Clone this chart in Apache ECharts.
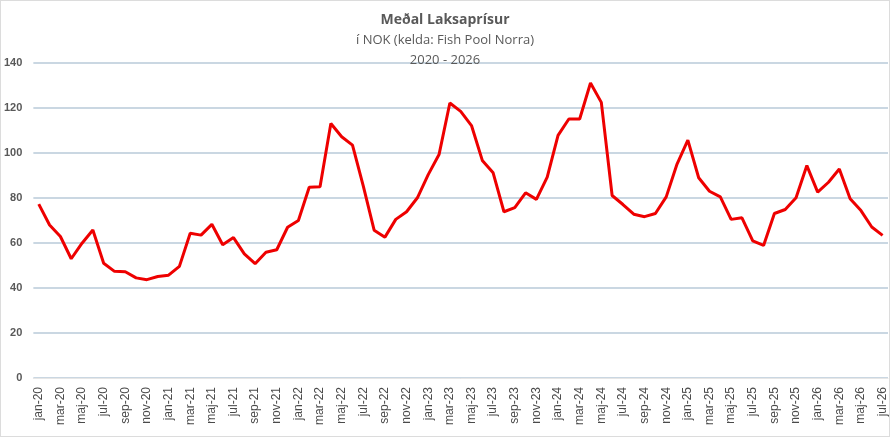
<!DOCTYPE html>
<html>
<head>
<meta charset="utf-8">
<script src="https://cdn.jsdelivr.net/npm/echarts@6/dist/echarts.min.js"></script>
<style>
  html, body { margin: 0; padding: 0; background: #fff; }
  #main { width: 890px; height: 437px; box-sizing: border-box; border: 1px solid #dcdcdc; }
</style>
</head>
<body>
<div id="main"></div>
<script>
const years = ['20', '21', '22', '23', '24', '25', '26'];
const monthNames = ['jan', 'feb', 'mar', 'apr', 'maj', 'jun', 'jul', 'aug', 'sep', 'okt', 'nov', 'des'];
const months = [];
years.forEach(y => monthNames.forEach(m => months.push(m + '-' + y)));
months.length = 79; // jan-20 .. jul-26

const prices = [
  77.3, 68.0, 62.9, 53.0, 59.9, 65.8, 51.0, 47.4, 47.2, 44.5, 43.7, 45.1,
  45.7, 49.6, 64.3, 63.5, 68.3, 59.2, 62.4, 55.2, 50.8, 55.9, 57.0, 67.0,
  70.0, 84.8, 85.0, 113.1, 107.2, 103.5, 85.3, 65.7, 62.6, 70.5, 73.9, 80.1,
  90.4, 99.3, 122.2, 118.5, 112.2, 96.7, 91.2, 73.9, 75.7, 82.3, 79.4, 89.3,
  107.8, 115.1, 115.1, 131.1, 122.5, 81.1, 77.1, 72.8, 71.7, 73.1, 80.5, 95.1,
  105.7, 89.0, 83.0, 80.5, 70.5, 71.2, 60.9, 58.9, 73.1, 74.9, 80.1, 94.4,
  82.6, 87.0, 92.9, 79.7, 74.4, 67.1, 63.4
];

const yTicks = { min: 0, max: 140, interval: 20 };

const chart = echarts.init(document.getElementById('main'));
chart.setOption({
  animation: false,
  title: [
    { text: 'Meðal Laksaprísur', left: 'center', top: 7,
      textStyle: { fontFamily: 'Open Sans', fontSize: 14, fontWeight: 'bold', color: '#595959' } },
    { text: 'í NOK (kelda: Fish Pool Norra)', left: 'center', top: 28,
      textStyle: { fontFamily: 'Open Sans', fontSize: 13, fontWeight: 'normal', color: '#595959' } },
    { text: '2020 - 2026', left: 'center', top: 48,
      textStyle: { fontFamily: 'Open Sans', fontSize: 13, fontWeight: 'normal', color: '#595959' } }
  ],
  grid: { left: 32, right: 1, top: 62, bottom: 58, containLabel: false },
  xAxis: {
    type: 'category',
    data: months,
    boundaryGap: true,
    axisLine: { show: true, lineStyle: { color: '#e6e6e6', width: 1 } },
    axisTick: { show: false },
    axisLabel: {
      interval: 1,
      rotate: 90,
      margin: 9,
      fontFamily: 'Liberation Sans',
      fontSize: 12,
      color: '#4a4a4a'
    }
  },
  yAxis: {
    type: 'value',
    min: yTicks.min,
    max: yTicks.max,
    interval: yTicks.interval,
    axisLine: { show: false },
    axisTick: { show: false },
    axisLabel: {
      margin: 11,
      fontFamily: 'Liberation Sans',
      fontSize: 11,
      fontWeight: 'bold',
      color: '#595959'
    },
    splitLine: { lineStyle: { color: '#b8cad9', width: 1.5 } }
  },
  series: [{
    type: 'line',
    data: prices,
    symbol: 'none',
    lineStyle: { color: '#ee0000', width: 3 },
    z: 3
  }]
});
</script>
</body>
</html>
